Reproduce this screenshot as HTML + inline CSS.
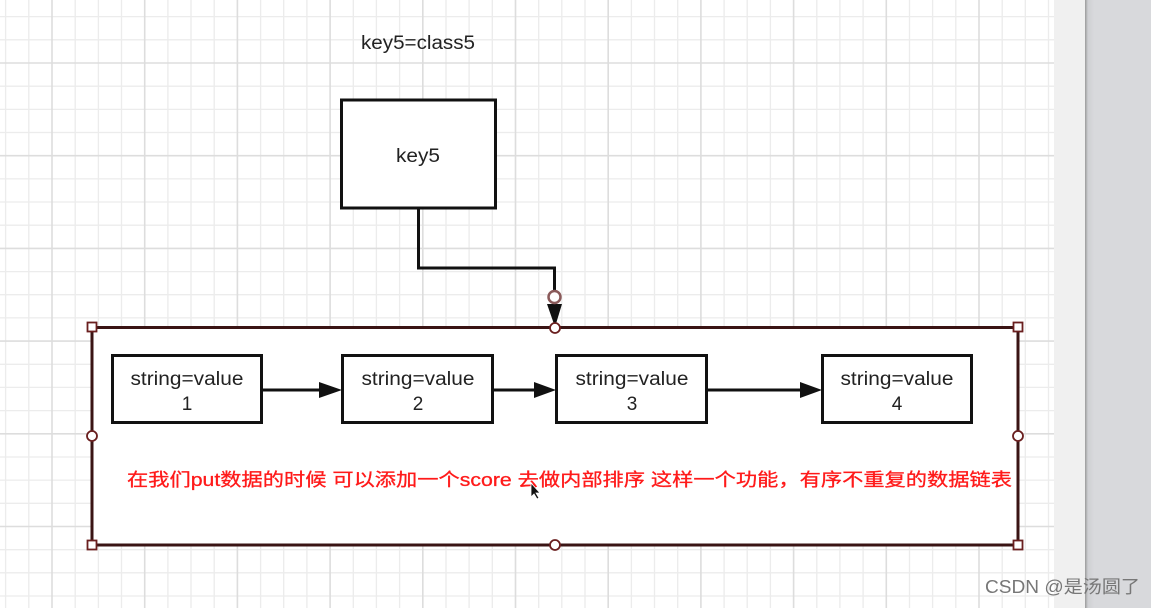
<!DOCTYPE html>
<html><head><meta charset="utf-8"><style>
html,body{margin:0;padding:0;background:#fff;}
svg{display:block;}
</style></head><body>
<svg width="1151" height="608" viewBox="0 0 1151 608" xmlns="http://www.w3.org/2000/svg">
<defs>
<linearGradient id="sh" x1="0" x2="1"><stop offset="0" stop-color="#9a9a9a"/><stop offset="0.3" stop-color="#cfd0d3"/><stop offset="1" stop-color="#d9dadd"/></linearGradient>
</defs>
<rect x="0" y="0" width="1054" height="608" fill="#fff"/>
<g stroke="#ececec" stroke-width="1.3" fill="none">
<path d="M5.6 0V608M28.8 0V608M75.2 0V608M98.4 0V608M121.5 0V608M167.9 0V608M191 0V608M214.2 0V608M260.6 0V608M283.7 0V608M306.9 0V608M353.3 0V608M376.4 0V608M399.6 0V608M446 0V608M469.1 0V608M492.3 0V608M538.7 0V608M561.8 0V608M585 0V608M631.4 0V608M654.5 0V608M677.7 0V608M724.1 0V608M747.2 0V608M770.4 0V608M816.8 0V608M839.9 0V608M863.1 0V608M909.5 0V608M932.6 0V608M955.8 0V608M1002.2 0V608M1025.3 0V608M1048.5 0V608"/>
<path d="M0 16.6H1054M0 39.8H1054M0 86.2H1054M0 109.4H1054M0 132.5H1054M0 178.9H1054M0 202H1054M0 225.2H1054M0 271.6H1054M0 294.7H1054M0 317.9H1054M0 364.3H1054M0 387.4H1054M0 410.6H1054M0 457H1054M0 480.1H1054M0 503.3H1054M0 549.7H1054M0 572.8H1054M0 596H1054"/>
</g>
<g stroke="#dddddd" stroke-width="1.6" fill="none">
<path d="M52 0V608M144.7 0V608M237.4 0V608M330.1 0V608M422.8 0V608M515.5 0V608M608.2 0V608M700.9 0V608M793.6 0V608M886.3 0V608M979 0V608"/>
<path d="M0 63H1054M0 155.7H1054M0 248.4H1054M0 341.1H1054M0 433.8H1054M0 526.5H1054"/>
</g>
<rect x="1054" y="0" width="31" height="608" fill="#f0f0f0"/>
<rect x="1085" y="0" width="66" height="608" fill="#d8d9dc"/>
<rect x="1085" y="0" width="10" height="608" fill="url(#sh)"/>

<text x="361" y="49" font-family="Liberation Sans, sans-serif" font-size="19" fill="#222" textLength="114" lengthAdjust="spacingAndGlyphs">key5=class5</text>
<rect x="341.5" y="100" width="154" height="108" fill="#fff" stroke="#111" stroke-width="3"/>
<text x="396" y="162" font-family="Liberation Sans, sans-serif" font-size="19" fill="#222" textLength="44" lengthAdjust="spacingAndGlyphs">key5</text>

<polyline points="418.5,208 418.5,268 554.5,268 554.5,298" fill="none" stroke="#111" stroke-width="3"/>

<rect x="92" y="327.5" width="926" height="217.5" fill="#fff" stroke="#3a1414" stroke-width="3"/>
<polygon points="547,304 562,304 555,327" fill="#111"/>
<circle cx="554.5" cy="297" r="6" fill="#fff" stroke="#8a5a5a" stroke-width="2.5"/>

<g font-family="Liberation Sans, sans-serif" font-size="19" fill="#222" text-anchor="middle">
<rect x="112.5" y="355.5" width="149" height="67" fill="#fff" stroke="#111" stroke-width="3"/>
<text x="187" y="385" textLength="113" lengthAdjust="spacingAndGlyphs">string=value</text><text x="187" y="410">1</text>
<rect x="342.5" y="355.5" width="150" height="67" fill="#fff" stroke="#111" stroke-width="3"/>
<text x="418" y="385" textLength="113" lengthAdjust="spacingAndGlyphs">string=value</text><text x="418" y="410">2</text>
<rect x="556.5" y="355.5" width="150" height="67" fill="#fff" stroke="#111" stroke-width="3"/>
<text x="632" y="385" textLength="113" lengthAdjust="spacingAndGlyphs">string=value</text><text x="632" y="410">3</text>
<rect x="822.5" y="355.5" width="149" height="67" fill="#fff" stroke="#111" stroke-width="3"/>
<text x="897" y="385" textLength="113" lengthAdjust="spacingAndGlyphs">string=value</text><text x="897" y="410">4</text>
</g>
<g stroke="#111" stroke-width="3">
<line x1="262" y1="390" x2="322" y2="390"/>
<line x1="493" y1="390" x2="537" y2="390"/>
<line x1="707" y1="390" x2="803" y2="390"/>
</g>
<g fill="#111">
<polygon points="319,382 342,390 319,398"/>
<polygon points="534,382 556,390 534,398"/>
<polygon points="800,382 822,390 800,398"/>
</g>

<g fill="#fff" stroke="#6a1f1f" stroke-width="1.8">
<rect x="87.5" y="322.5" width="9" height="9"/>
<rect x="1013.5" y="322.5" width="9" height="9"/>
<rect x="87.5" y="540.5" width="9" height="9"/>
<rect x="1013.5" y="540.5" width="9" height="9"/>
<circle cx="555" cy="328" r="5"/>
<circle cx="555" cy="545" r="5"/>
<circle cx="92" cy="436" r="5"/>
<circle cx="1018" cy="436" r="5"/>
</g>

<text x="127" y="486" font-family="Liberation Sans, 'Noto Sans CJK SC', sans-serif" font-size="18" fill="#ff1a1a" stroke="#ff1a1a" stroke-width="0.3" textLength="885" lengthAdjust="spacingAndGlyphs">在我们put数据的时候  可以添加一个score 去做内部排序 这样一个功能，有序不重复的数据链表</text>
<polygon points="531,483 531,497 534,494 537,499 539,498 536,493 540,493" fill="#111" stroke="#fff" stroke-width="0.8"/>

<text x="985" y="593" font-family="Liberation Sans, 'Noto Sans CJK SC', sans-serif" font-size="18" fill="#777" textLength="155" lengthAdjust="spacingAndGlyphs">CSDN @是汤圆了</text>
</svg>
</body></html>
